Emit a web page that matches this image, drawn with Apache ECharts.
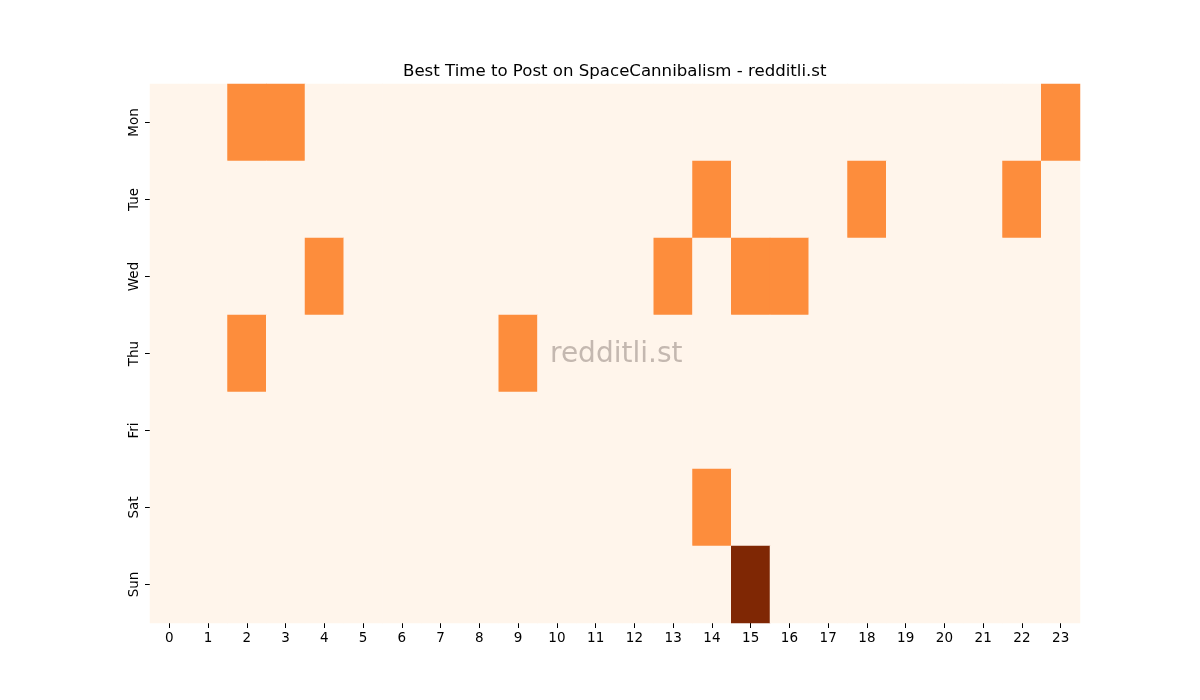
<!DOCTYPE html>
<html>
<head>
<meta charset="utf-8">
<script src="https://cdn.jsdelivr.net/npm/echarts@6/dist/echarts.min.js"></script>
<style>html,body{margin:0;padding:0;background:#fff}#c{width:1200px;height:700px}</style>
</head>
<body>
<div id="c"></div>
<script>
const hours = ['0','1','2','3','4','5','6','7','8','9','10','11','12','13','14','15','16','17','18','19','20','21','22','23'];
const days = ['Mon','Tue','Wed','Thu','Fri','Sat','Sun'];
// posts per hour, one row per day
const mon = [0,0,1,1,0,0,0,0,0,0,0,0,0,0,0,0,0,0,0,0,0,0,0,1];
const tue = [0,0,0,0,0,0,0,0,0,0,0,0,0,0,1,0,0,0,1,0,0,0,1,0];
const wed = [0,0,0,0,1,0,0,0,0,0,0,0,0,1,0,1,1,0,0,0,0,0,0,0];
const thu = [0,0,1,0,0,0,0,0,0,1,0,0,0,0,0,0,0,0,0,0,0,0,0,0];
const fri = [0,0,0,0,0,0,0,0,0,0,0,0,0,0,0,0,0,0,0,0,0,0,0,0];
const sat = [0,0,0,0,0,0,0,0,0,0,0,0,0,0,1,0,0,0,0,0,0,0,0,0];
const sun = [0,0,0,0,0,0,0,0,0,0,0,0,0,0,0,2,0,0,0,0,0,0,0,0];
const rows = [mon,tue,wed,thu,fri,sat,sun];
const data = [];
rows.forEach((r, d) => r.forEach((v, h) => data.push([h, d, v])));

const font = 'DejaVu Sans';
const chart = echarts.init(document.getElementById('c'), null, {renderer: 'canvas'});
chart.setOption({
  animation: false,
  backgroundColor: '#ffffff',
  title: {
    text: 'Best Time to Post on SpaceCannibalism - redditli.st',
    left: 398, top: 58,
    textStyle: {fontFamily: font, fontSize: 16.6, fontWeight: 'normal', color: '#000'}
  },
  grid: {left: 150, right: 120, top: 84, bottom: 77, containLabel: false},
  xAxis: {
    type: 'category', data: hours, boundaryGap: true,
    axisLine: {show: false},
    axisTick: {show: true, alignWithLabel: true, length: 5, lineStyle: {color: '#000', width: 1}},
    axisLabel: {fontFamily: font, fontSize: 13.5, color: '#000', margin: 8, interval: 0},
    splitLine: {show: false}
  },
  yAxis: {
    type: 'category', data: days, inverse: true, boundaryGap: true,
    axisLine: {show: false},
    axisTick: {show: true, alignWithLabel: true, length: 5, lineStyle: {color: '#000', width: 1}},
    axisLabel: {fontFamily: font, fontSize: 13.5, color: '#000', rotate: 90, margin: 9, interval: 0},
    splitLine: {show: false}
  },
  visualMap: {
    show: false, min: 0, max: 2, dimension: 2,
    inRange: {color: ['#fff5eb', '#fd8d3c', '#7f2704']}
  },
  series: [{
    type: 'heatmap', data: data,
    itemStyle: {borderWidth: 0},
    emphasis: {disabled: true}
  }],
  graphic: [{
    type: 'text', left: 550, top: 341, z: 100,
    style: {text: 'redditli.st', fontFamily: font, fontSize: 28, fill: '#c4b8b0'}
  }]
});
</script>
</body>
</html>
